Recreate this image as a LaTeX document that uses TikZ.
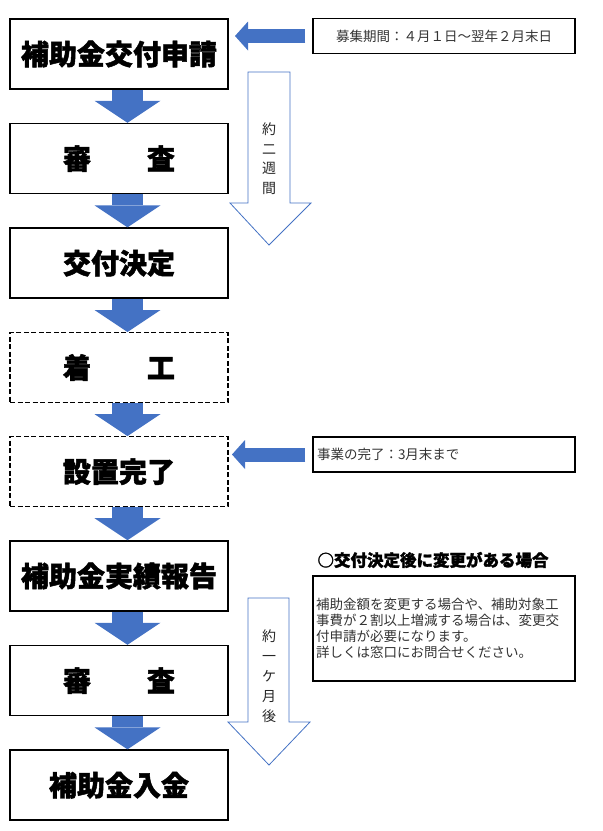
\documentclass[tikz,border=0pt]{standalone}
\usepackage{fontspec}
\setmainfont{Noto Sans CJK JP}[BoldFeatures={FakeBold=1.6}]
\usepackage{tikz}
\usetikzlibrary{positioning,arrows.meta}
\definecolor{arrowblue}{HTML}{4472C4}

\begin{document}
\begin{tikzpicture}[x=1pt,y=-1pt,
  step box/.style={draw,line width=1.6pt,minimum width=218pt,minimum height=70pt,
     font=\fontsize{28}{30}\selectfont\bfseries},
  dashed box/.style={step box,line width=1.1pt,dash pattern=on 5pt off 2.5pt},
  note box/.style={draw,line width=1.4pt,minimum width=262pt,minimum height=35pt,
     font=\fontsize{13.5}{16}\selectfont,text=black!80},
  blue down/.style={arrowblue,line width=31pt,
     -{Triangle[width=66pt,length=22pt,line width=0pt]}},
  blue left/.style={arrowblue,line width=14pt,
     -{Triangle[width=29pt,length=13pt,line width=0pt]}},
  hollow/.style={draw=arrowblue,line width=0.8pt,fill=white,line join=miter},
  side text/.style={align=center,font=\fontsize{14}{19.5}\selectfont,text=black!85}]
\useasboundingbox (0,0) rectangle (603,831);
%
\node [step box] (apply) at (119,54) {補助金交付申請};
\node [step box,below = 33pt of apply] (check1) {審　　査};
\node [step box,below = 33pt of check1] (decide) {交付決定};
\node [dashed box,below = 33pt of decide] (start) {着　　工};
\node [dashed box,below = 33pt of start] (finish) {設置完了};
\node [step box,below = 33pt of finish] (report) {補助金実績報告};
\node [step box,below = 33pt of report] (check2) {審　　査};
\node [step box,below = 33pt of check2] (paid) {補助金入金};
%
\draw [blue down] ([xshift=8.5pt]apply.south) -- ([xshift=8.5pt]check1.north);
\draw [blue down] ([xshift=8.5pt]check1.south) -- ([xshift=8.5pt]decide.north);
\draw [blue down] ([xshift=8.5pt]decide.south) -- ([xshift=8.5pt]start.north);
\draw [blue down] ([xshift=8.5pt]start.south) -- ([xshift=8.5pt]finish.north);
\draw [blue down] ([xshift=8.5pt]finish.south) -- ([xshift=8.5pt]report.north);
\draw [blue down] ([xshift=8.5pt]report.south) -- ([xshift=8.5pt]check2.north);
\draw [blue down] ([xshift=8.5pt]check2.south) -- ([xshift=8.5pt]paid.north);
%
\node [note box] (period) at (444,36) {募集期間：４月１日～翌年２月末日};
\draw [blue left] ([xshift=-7pt]period.west) -- (235,36);
\node [note box,text width=254pt,align=left] (deadline) at (444,454.5) {事業の完了：3月末まで};
\draw [blue left] ([xshift=-7pt]deadline.west) -- (232,454.5);
%
\node [anchor=west,font=\fontsize{16.5}{18}\selectfont\bfseries] (change) at (314,560) {○交付決定後に変更がある場合};
\node [note box,minimum height=105pt,text width=256pt,inner sep=3pt,align=left] (changebox) at (444,628.5)
  {補助金額を変更する場合や、補助対象工\\事費が２割以上増減する場合は、変更交\\付申請が必要になります。\\詳しくは窓口にお問合せください。};
%
\draw [hollow] (248,72) -- (290,72) -- (290,203) -- (311,203) -- (269,245) -- (230,203) -- (248,203) -- cycle;
\node [side text] (weeks) at (269,158.5) {約\\二\\週\\間};
\draw [hollow] (248,598) -- (289,598) -- (289,722) -- (310,722) -- (269,765) -- (228,722) -- (248,722) -- cycle;
\node [side text,font=\fontsize{14}{20}\selectfont] (month) at (269,676) {約\\一\\ケ\\月\\後};
\end{tikzpicture}
\end{document}
